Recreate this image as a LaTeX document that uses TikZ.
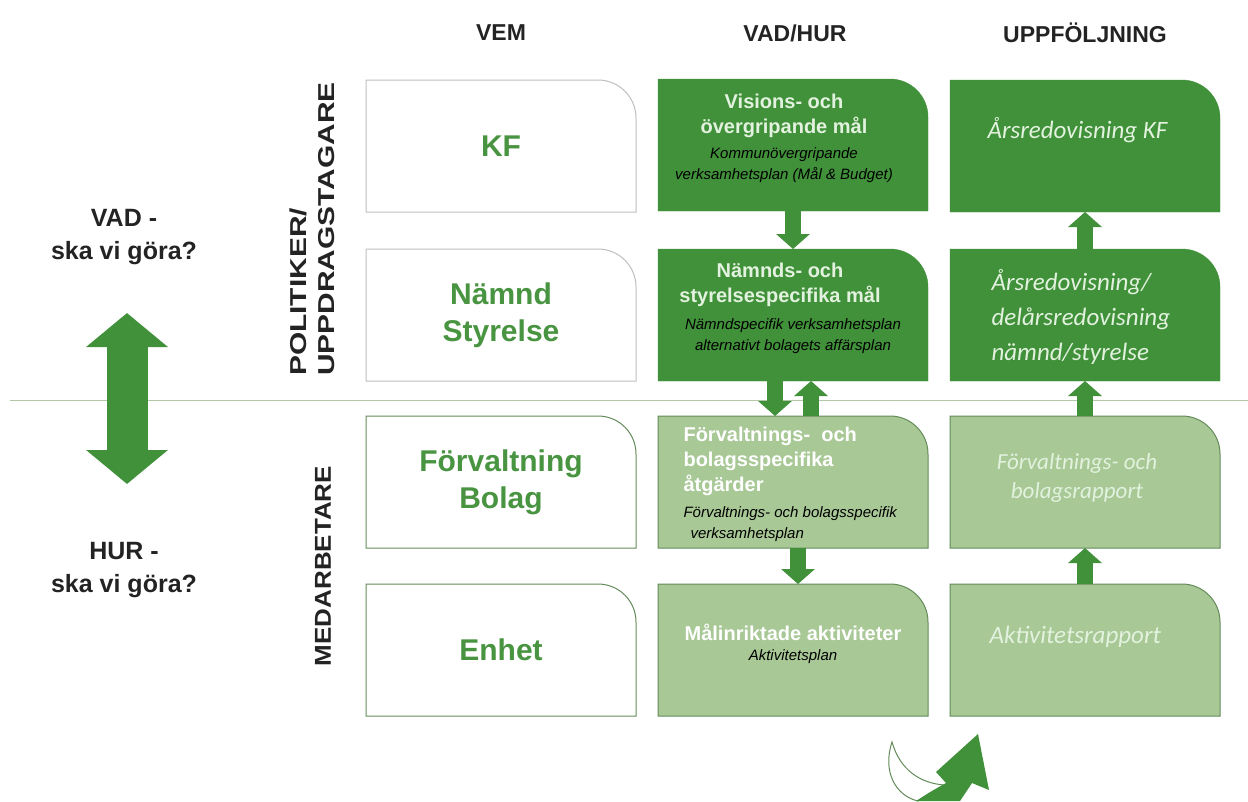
\documentclass[tikz,border=0pt]{standalone}
\usepackage{fontspec}
\setmainfont{Liberation Sans}
\newfontfamily\calib{Carlito}
\usetikzlibrary{arrows.meta,backgrounds}

\definecolor{dkgreen}{RGB}{64,145,58}
\definecolor{ltgreen}{RGB}{168,200,150}
\definecolor{txtgreen}{RGB}{72,148,64}
\definecolor{rimgreen}{RGB}{100,140,90}
\definecolor{sepline}{RGB}{178,198,168}
\definecolor{palewhite}{RGB}{226,242,222}
\definecolor{headgray}{RGB}{35,35,35}

% cell with one rounded corner (top right)
\newcommand{\tabcell}[2]{%
  \draw[#2] (#1.south west) -- (#1.north west) -- ([xshift=-38pt]#1.north east)
    arc[start angle=90,end angle=0,radius=38pt] -- (#1.south east) -- cycle;}
% stretched band text
\newcommand{\wide}[2]{\scalebox{#1}[1]{#2}}

\begin{document}
\begin{tikzpicture}[x=1pt,y=-1pt,
  cell/.style={minimum width=270pt,minimum height=132pt,inner sep=0pt,outer sep=0pt},
  whitecell/.style={fill=white,draw=gray!50,line width=1pt},
  whitecellb/.style={fill=white,draw=rimgreen,line width=1pt},
  darkcell/.style={fill=dkgreen,draw=dkgreen},
  lightcell/.style={fill=ltgreen,draw=rimgreen,line width=1pt},
  head/.style={font=\bfseries\fontsize{23}{27}\selectfont,text=headgray},
  side/.style={font=\bfseries\fontsize{25}{33}\selectfont,text=headgray,align=center},
  band/.style={font=\bfseries\fontsize{23}{28}\selectfont,text=headgray,rotate=90,inner sep=0pt},
  who/.style={font=\bfseries\fontsize{30}{37}\selectfont,text=txtgreen,align=center},
  titl/.style={font=\bfseries\fontsize{20}{25}\selectfont,align=center},
  sub/.style={font=\itshape\fontsize{15}{21}\selectfont,align=center},
  rep/.style={font=\calib\itshape\fontsize{25}{35}\selectfont,text=palewhite,align=left},
  blockarr/.style={line width=16pt,draw=dkgreen,-{Triangle[width=33pt,length=15pt]}},
  bigarr/.style={line width=41pt,draw=dkgreen,
    {Triangle[width=80pt,length=34pt]}-{Triangle[width=80pt,length=34pt]}}]

\useasboundingbox (0,0) rectangle (1248,801);

% headers
\node[head] (hvem) at (501,33) {VEM};
\node[head] (hvad) at (795,33) {VAD/HUR};
\node[head] (hupp) at (1085,33) {UPPFÖLJNING};

% separator
\draw[sepline,line width=1pt] (10,400) -- (1248,400);

% left side
\node[side] (vad) at (124,237) {VAD -\\ska vi göra?};
\node[side] (hur) at (124,570) {HUR -\\ska vi göra?};
\coordinate (vadtip) at (127,313);
\coordinate (hurtip) at (127,484);
\draw[bigarr] (vadtip) -- (hurtip);

\node[band,align=left,anchor=west] (polit) at (312,376)
  {\wide{1.3}{POLITIKER/}\\\wide{1.3}{UPPDRAGSTAGARE}};
\node[band] (medarb) at (323,566) {\wide{1.13}{MEDARBETARE}};

% cells
\foreach \nm/\cx/\cy in {kf/501/146, namnd/501/315, forv/501/482, enhet/501/650,
  mal1/793/145, mal2/793/315, atg/793/482, akt/793/650,
  ars1/1085/146, ars2/1085/315, rapp/1085/482, aktrap/1085/650}
  \node[cell] (\nm) at (\cx,\cy) {};

\foreach \nm in {kf,namnd} \tabcell{\nm}{whitecell};
\foreach \nm in {forv,enhet} \tabcell{\nm}{whitecellb};
\foreach \nm in {mal1,mal2,ars1,ars2} \tabcell{\nm}{darkcell};
\foreach \nm in {atg,akt,rapp,aktrap} \tabcell{\nm}{lightcell};

% VEM
\node[who] (kft) at (kf) {KF};
\node[who] (namndt) at (namnd) {Nämnd\\Styrelse};
\node[who] (forvt) at (forv) {Förvaltning\\Bolag};
\node[who] (enhett) at (enhet) {Enhet};

% VAD/HUR
\node[titl,text=palewhite] (mal1t) at (784,116) {Visions- och\\övergripande mål};
\node[sub] (mal1s) at (784,165) {Kommunövergripande\\verksamhetsplan (Mål \& Budget)};
\node[titl,text=palewhite] (mal2t) at (780,285) {Nämnds- och\\styrelsespecifika mål};
\node[sub] (mal2s) at (793,336) {Nämndspecifik verksamhetsplan\\alternativt bolagets affärsplan};
\node[titl,text=white,align=left,anchor=west] (atgt) at (680,461)
  {Förvaltnings-\ \ och\\bolagsspecifika\\åtgärder};
\node[sub,align=left,anchor=west] (atgs) at (680,524)
  {Förvaltnings- och bolagsspecifik\\\hspace{7pt}verksamhetsplan};
\node[titl,text=white] (aktt) at (793,632) {Målinriktade aktiviteter};
\node[sub] (akts) at (793,657) {Aktivitetsplan};

% UPPFOLJNING
\node[rep,anchor=west] (ars1t) at (984,130) {Årsredovisning KF};
\node[rep,anchor=west] (ars2t) at (988,317) {Årsredovisning/\\delårsredovisning\\nämnd/styrelse};
\node[rep,align=center,font=\calib\itshape\fontsize{23}{29}\selectfont] (rappt) at (1077,478)
  {Förvaltnings- och\\bolagsrapport};
\node[rep,anchor=west] (aktrapt) at (986,637) {Aktivitetsrapport};

% arrows
\draw[blockarr] (mal1.south) -- (mal2.north);
\draw[blockarr] ([xshift=-18pt]mal2.south) -- ([xshift=-18pt]atg.north);
\draw[blockarr] ([xshift=18pt]atg.north) -- ([xshift=18pt]mal2.south);
\draw[blockarr] ([xshift=5pt]atg.south) -- ([xshift=5pt]akt.north);
\draw[blockarr] (ars2.north) -- (ars1.south);
\draw[blockarr] (rapp.north) -- (ars2.south);
\draw[blockarr] (aktrap.north) -- (rapp.south);

% curved arrow
\draw[rimgreen,fill=white,line width=1pt] (892,742) .. controls (882,772) and (896,796) .. (918,801)
  -- (944,785) .. controls (920,783) and (900,770) .. cycle;
\fill[dkgreen] (916,801) .. controls (930,792) .. (946,783) -- (936,772) -- (978,734)
  -- (989,790) -- (972,783) .. controls (966,792) .. (960,801) -- cycle;

\end{tikzpicture}
\end{document}
